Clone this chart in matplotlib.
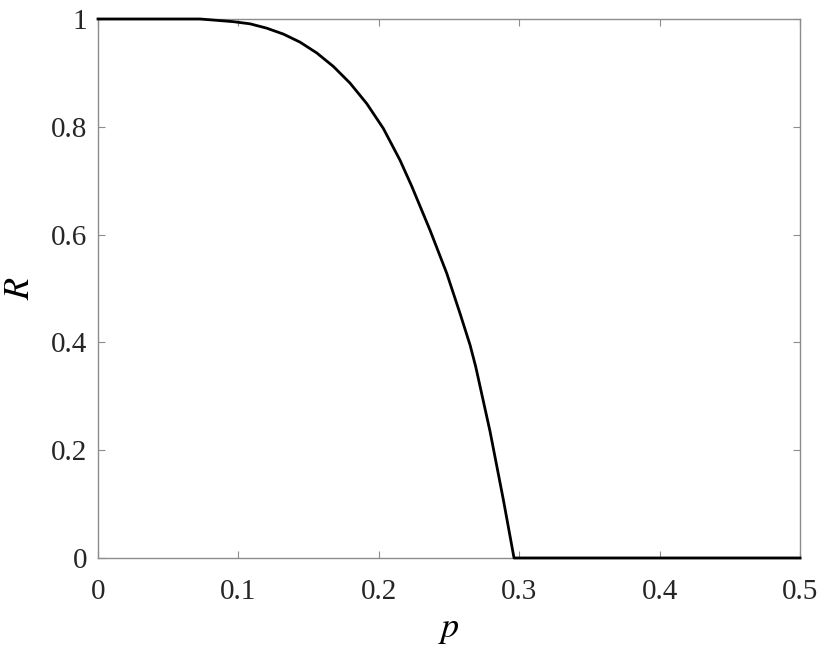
import numpy as np
import matplotlib
matplotlib.use("Agg")
import matplotlib.pyplot as plt

# values
p = [0, 0.0726, 0.0964, 0.1083, 0.1201, 0.132, 0.1439, 0.1558, 0.1676,
     0.1795, 0.1914, 0.2032, 0.2151, 0.2234, 0.2365, 0.2484, 0.2578,
     0.265, 0.269, 0.2792, 0.2887, 0.2963, 0.5]
R = [1, 1, 0.995, 0.991, 0.983, 0.972, 0.957, 0.937, 0.912,
     0.881, 0.843, 0.797, 0.738, 0.690, 0.608, 0.528, 0.454,
     0.395, 0.355, 0.235, 0.108, 0, 0]

xticks = [0, 0.1, 0.2, 0.3, 0.4, 0.5]
yticks = [0, 0.2, 0.4, 0.6, 0.8, 1]

plt.rcParams['font.family'] = ['Liberation Serif', 'DejaVu Serif']
plt.rcParams['mathtext.fontset'] = 'stix'

fig = plt.figure(figsize=(8.27, 6.59), dpi=100)
ax = fig.add_axes([0.1185, 0.1533, 0.8489, 0.8179])

ax.plot(p, R, color='black', linewidth=2.0, clip_on=False, zorder=3,
        solid_joinstyle='round')

ax.set_xlim(0, 0.5)
ax.set_ylim(0, 1)
ax.set_xticks(xticks)
ax.set_yticks(yticks)
ax.set_xticklabels(['0', '0.1', '0.2', '0.3', '0.4', '0.5'])
ax.set_yticklabels(['0', '0.2', '0.4', '0.6', '0.8', '1'])

for s in ax.spines.values():
    s.set_color('#8c8c8c')
    s.set_linewidth(1.0)
ax.tick_params(direction='in', length=5, width=0.8, color='#8c8c8c',
               labelsize=21, labelcolor='#262626', top=True, right=True)
ax.tick_params(axis='x', pad=15)
ax.tick_params(axis='y', pad=8)

ax.set_xlabel('$p$', fontsize=26, labelpad=6)
ax.set_ylabel('$R$', fontsize=26, labelpad=10)

fig.savefig('out.png', dpi=100)
